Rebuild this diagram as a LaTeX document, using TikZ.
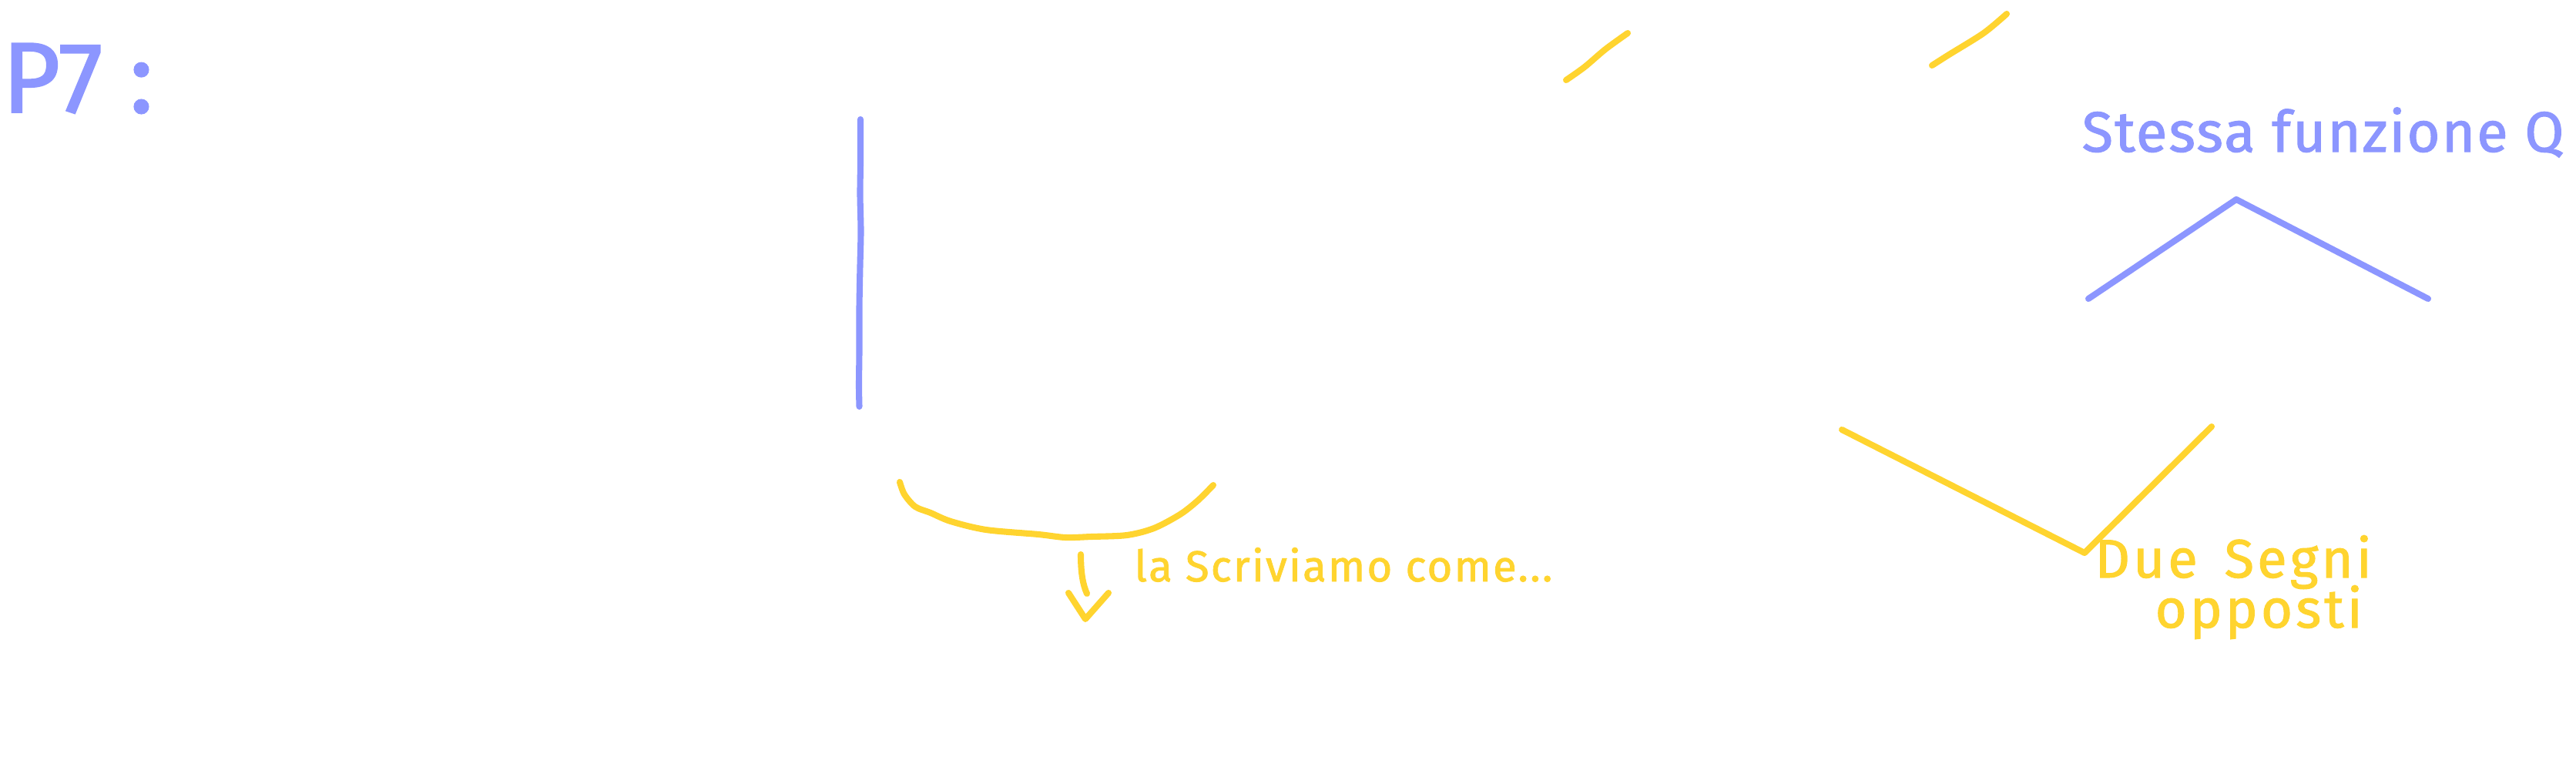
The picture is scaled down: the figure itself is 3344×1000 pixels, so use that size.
\documentclass[tikz,border=0pt]{standalone}
\usepackage{fontspec}
\setmainfont{Fira Sans}
\definecolor{penblue}{HTML}{8C96FF}
\definecolor{penyellow}{HTML}{FFD42F}
\begin{document}
\begin{tikzpicture}[x=0.01cm,y=-0.01cm,
  pen/.style={line width=2.3pt,line cap=round,line join=round},
  bluepen/.style={pen,draw=penblue},
  yellowpen/.style={pen,draw=penyellow},
  bluetext/.style={text=penblue,inner sep=0pt,anchor=base west},
  yellowtext/.style={text=penyellow,inner sep=0pt,anchor=base west}]
\useasboundingbox (0,0) rectangle (3344,1000);

% title
\node[bluetext,font=\fontsize{37}{40}\selectfont\addfontfeatures{FakeBold=1.5}] (title) at (2,146) {P7 :};

% blue vertical stroke
\draw[bluepen] plot[smooth] coordinates {(1117,155) (1117,210) (1116.5,253) (1117.5,300) (1116.5,345) (1115.5,400) (1115.5,455) (1115,500) (1115.5,528)};

% yellow bracket
\draw[yellowpen] plot[smooth] coordinates {(1168,626) (1174,642) (1188,658) (1208,666) (1234,677) (1280,688) (1348,694) (1383,698) (1417,697) (1463,695) (1498,686) (1532,668) (1555,650) (1575,630)};

% arrow under bracket
\coordinate (shafttop) at (1403,720);
\coordinate (shaftbot) at (1411,771);
\coordinate (headl) at (1387,770);
\coordinate (headtip) at (1409,804);
\coordinate (headr) at (1439,770);
\draw[yellowpen] (shafttop) .. controls (1403,745) and (1406,760) .. (shaftbot);
\draw[yellowpen] (headl) -- (headtip) -- (headr);

\node[yellowtext,font=\fontsize{16}{18}\selectfont\addfontfeatures{LetterSpace=4,FakeBold=1.5}] (scriviamo) at (1472,755) {la Scriviamo come...};

% top yellow strokes
\draw[yellowpen] plot[smooth] coordinates {(2033,104) (2057,87) (2084,64) (2113,43)};
\draw[yellowpen] plot[smooth] coordinates {(2508,85) (2530,71) (2575,43) (2605,18)};

% blue label and chevron
\node[bluetext,font=\fontsize{21}{24}\selectfont\addfontfeatures{LetterSpace=3,FakeBold=1.5}] (stessa) at (2702,197) {Stessa funzione Q};
\coordinate (cl) at (2711,388);
\coordinate (ct) at (2903,259);
\coordinate (cr) at (3152,388);
\draw[bluepen] (cl) -- (ct) -- (cr);

% yellow V
\coordinate (vl) at (2391,558);
\coordinate (vb) at (2706,718);
\coordinate (vr) at (2871,554);
\draw[yellowpen] (vl) -- (vb) -- (vr);

\node[yellowtext,font=\fontsize{20}{22}\selectfont\addfontfeatures{LetterSpace=6,FakeBold=1.5}] (due) at (2719,750) {Due\hspace{0.35cm}Segni};
\node[yellowtext,font=\fontsize{20}{22}\selectfont\addfontfeatures{LetterSpace=6,FakeBold=1.5}] (opposti) at (2797,815) {opposti};
\end{tikzpicture}
\end{document}
